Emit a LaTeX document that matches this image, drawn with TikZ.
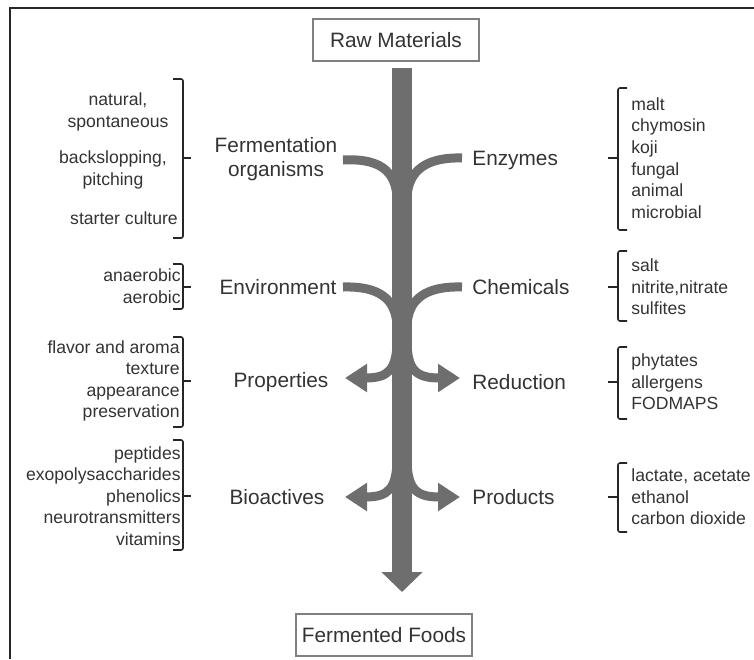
\documentclass[tikz,border=0pt]{standalone}
\usepackage{fontspec}
\setmainfont{Liberation Sans}
\usetikzlibrary{arrows.meta}
\definecolor{flowgray}{HTML}{6E6E6E}
\definecolor{textgray}{HTML}{333333}

\begin{document}
\begin{tikzpicture}[x=0.5pt, y=-0.5pt,
    every node/.style={text=textgray},
    box node/.style={draw=gray, line width=0.7pt, inner sep=0pt, minimum height=21pt, font=\fontsize{10.4}{12}\selectfont},
    stage node/.style={align=center, inner sep=0pt, font=\fontsize{10.4}{12}\selectfont},
    item node/.style={inner sep=0pt, font=\fontsize{8.8}{10.8}\selectfont},
    trunk/.style={flowgray, line width=10pt, -{Triangle[width=20pt, length=10pt]}},
    branch/.style={flowgray, line width=4.5pt},
    out branch/.style={branch, -{Triangle[width=13.5pt, length=11pt]}},
    brace/.style={black!85, line width=0.8pt, rounded corners=1pt}]
    \useasboundingbox (0,0) rectangle (754,659);
    \draw[black!85, line width=1.2pt] (10,659) -- (10,8) -- (754,8);

    \node[box node, minimum width=83pt] (raw) at (396,40) {Raw Materials};
    \node[box node, minimum width=88pt] (foods) at (384,635) {Fermented Foods};

    \node[stage node] (organisms) at (276,159) {Fermentation\\organisms};
    \node[stage node, anchor=west] (enzymes) at (472,160) {Enzymes};
    \node[stage node] (environment) at (278,287) {Environment};
    \node[stage node, anchor=west] (chemicals) at (472,287) {Chemicals};
    \node[stage node] (properties) at (281,382) {Properties};
    \node[stage node, anchor=west] (reduction) at (472,382) {Reduction};
    \node[stage node] (bioactives) at (277,497) {Bioactives};
    \node[stage node, anchor=west] (products) at (472,497) {Products};

    \node[item node, align=center] (natural) at (118,112) {natural,\\spontaneous};
    \node[item node, align=center] (backslop) at (113,170) {backslopping,\\pitching};
    \node[item node, align=center] (starter) at (124,218) {starter culture};
    \node[item node, align=right, anchor=east] (oxygen) at (181,286) {anaerobic\\aerobic};
    \node[item node, align=right, anchor=east] (sensory) at (180,381) {flavor and aroma\\texture\\appearance\\preservation};
    \node[item node, align=right, anchor=east] (compounds) at (181,496) {peptides\\exopolysaccharides\\phenolics\\neurotransmitters\\vitamins};

    \node[item node, align=left, anchor=west] (sources) at (631,158) {malt\\chymosin\\koji\\fungal\\animal\\microbial};
    \node[item node, align=left, anchor=west] (additives) at (631,287) {salt\\nitrite,nitrate\\sulfites};
    \node[item node, align=left, anchor=west] (antinutrients) at (631,382) {phytates\\allergens\\FODMAPS};
    \node[item node, align=left, anchor=west] (metabolites) at (631,497) {lactate, acetate\\ethanol\\carbon dioxide};

    \draw[brace] (173,79) -- (183,79) -- (183,238) -- (173,238);
    \draw[brace] (183,158) -- (191,158);
    \draw[brace] (173,264) -- (183,264) -- (183,309) -- (173,309);
    \draw[brace] (183,287) -- (191,287);
    \draw[brace] (173,337) -- (183,337) -- (183,427) -- (173,427);
    \draw[brace] (183,381) -- (191,381);
    \draw[brace] (173,440) -- (183,440) -- (183,550) -- (173,550);
    \draw[brace] (183,496) -- (191,496);

    \draw[brace] (627,88) -- (618,88) -- (618,230) -- (627,230);
    \draw[brace] (618,158) -- (608,158);
    \draw[brace] (627,251) -- (618,251) -- (618,321) -- (627,321);
    \draw[brace] (618,287) -- (608,287);
    \draw[brace] (627,347) -- (618,347) -- (618,419) -- (627,419);
    \draw[brace] (618,382) -- (608,382);
    \draw[brace] (627,463) -- (618,463) -- (618,532) -- (627,532);
    \draw[brace] (618,497) -- (608,497);

    \coordinate (trunktop) at (402,68);
    \coordinate (trunktip) at (402,592);
    \coordinate (organismsin) at (343,160);
    \coordinate (enzymesin) at (462,158);
    \coordinate (environmentin) at (343,287);
    \coordinate (chemicalsin) at (462,287);
    \coordinate (propertiesout) at (345,378);
    \coordinate (reductionout) at (460,378);
    \coordinate (bioactivesout) at (345,497);
    \coordinate (productsout) at (460,497);

    \draw[trunk] (trunktop) -- (trunktip);
    \draw[branch] (organismsin) .. controls (378,158) and (396,170) .. (397,198);
    \draw[branch] (enzymesin) .. controls (427,157) and (408,170) .. (407,198);
    \draw[branch] (environmentin) .. controls (378,286) and (396,298) .. (397,326);
    \draw[branch] (chemicalsin) .. controls (427,286) and (408,298) .. (407,326);
    \draw[out branch] (397,340) .. controls (397,370) and (388,378) .. (propertiesout);
    \draw[out branch] (407,340) .. controls (407,370) and (416,378) .. (reductionout);
    \draw[out branch] (397,458) .. controls (397,489) and (388,497) .. (bioactivesout);
    \draw[out branch] (407,458) .. controls (407,489) and (416,497) .. (productsout);
\end{tikzpicture}
\end{document}
